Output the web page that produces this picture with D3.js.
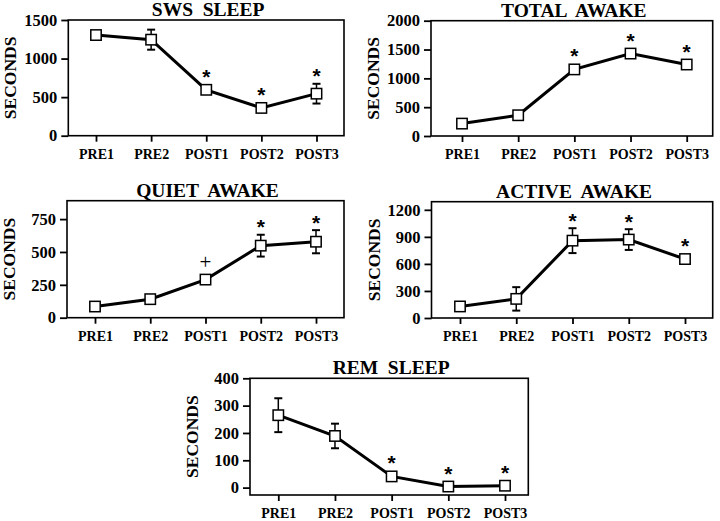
<!DOCTYPE html>
<html>
<head>
<meta charset="utf-8">
<script src="https://cdn.jsdelivr.net/npm/d3@7"></script>
<style>
  body { margin: 0; background: #fff; }
  svg { display: block; }
  text { font-family: "Liberation Serif", "Times New Roman", serif; font-weight: bold; fill: #000; }
</style>
</head>
<body>
<svg id="chart" width="720" height="521"></svg>
<script>
// categories along the x axis (same for every panel)
const categories = ['PRE1', 'PRE2', 'POST1', 'POST2', 'POST3'];

// values (seconds), with SEM where a bar is visible
const swsMean = [1305, 1245, 595, 360, 545];
const swsSem = [0, 130, 0, 0, 128];
const swsSig = ['', '', '*', '*', '*'];
const swsTicks = [0, 500, 1000, 1500];

const totalMean = [215, 360, 1155, 1430, 1240];
const totalSem = [0, 0, 0, 0, 0];
const totalSig = ['', '', '*', '*', '*'];
const totalTicks = [0, 500, 1000, 1500, 2000];

const quietMean = [85, 141, 290, 548, 578];
const quietSem = [0, 0, 0, 83, 88];
const quietSig = ['', '', '+', '*', '*'];
const quietTicks = [0, 250, 500, 750];

const activeMean = [128, 212, 858, 870, 654];
const activeSem = [0, 130, 138, 115, 0];
const activeSig = ['', '', '*', '*', '*'];
const activeTicks = [0, 300, 600, 900, 1200];

const remMean = [265, 189, 41, 4, 7];
const remSem = [62, 45, 0, 0, 0];
const remSig = ['', '', '*', '*', '*'];
const remTicks = [0, 100, 200, 300, 400];

// panel layout: plot box, first/last tick x, y domain
const panels = [
    { title: 'SWS  SLEEP', mean: swsMean, sem: swsSem, sig: swsSig, ticks: swsTicks,
      box: [68.3, 344, 20, 135.7], xr: [96, 316.5], ydom: [0, 1500] },
    { title: 'TOTAL  AWAKE', mean: totalMean, sem: totalSem, sig: totalSig, ticks: totalTicks,
      box: [431, 712.7, 20.7, 136], xr: [462, 686.7], ydom: [0, 2000] },
    { title: 'QUIET  AWAKE', mean: quietMean, sem: quietSem, sig: quietSig, ticks: quietTicks,
      box: [67, 344, 200.7, 317.7], xr: [95, 316], ydom: [0, 890] },
    { title: 'ACTIVE  AWAKE', mean: activeMean, sem: activeSem, sig: activeSig, ticks: activeTicks,
      box: [431.5, 712.7, 201.7, 318], xr: [460, 685], ydom: [0, 1290] },
    { title: 'REM  SLEEP', mean: remMean, sem: remSem, sig: remSig, ticks: remTicks,
      box: [250, 528.3, 378.3, 495], xr: [278.3, 505], ydom: [-27, 400] }
];

const svg = d3.select('#chart');

svg.append('rect')
    .attr('width', 720)
    .attr('height', 521)
    .attr('fill', '#fff');

function drawPanel(p) {
    const [x0, x1, y0, y1] = p.box;
    const g = svg.append('g');

    const x = d3.scalePoint()
        .domain(categories)
        .range(p.xr);

    const y = d3.scaleLinear()
        .domain(p.ydom)
        .range([y1, y0]);

    // frame
    g.append('rect')
        .attr('x', x0)
        .attr('y', y0)
        .attr('width', x1 - x0)
        .attr('height', y1 - y0)
        .attr('fill', 'none')
        .attr('stroke', '#000')
        .attr('stroke-width', 1.6);

    // y axis
    const yAxis = g.append('g')
        .attr('transform', `translate(${x0},0)`)
        .call(d3.axisLeft(y).tickValues(p.ticks).tickFormat(d3.format('d'))
            .tickSize(7).tickPadding(4).tickSizeOuter(0));
    yAxis.select('.domain').remove();
    yAxis.selectAll('line').attr('stroke-width', 1.8);
    yAxis.selectAll('text')
        .attr('font-family', null)
        .style('font-size', '16.5px');

    // x axis
    const xAxis = g.append('g')
        .attr('transform', `translate(0,${y1})`)
        .call(d3.axisBottom(x).tickSize(6).tickPadding(7.5).tickSizeOuter(0));
    xAxis.select('.domain').remove();
    xAxis.selectAll('line').attr('stroke-width', 1.8);
    xAxis.selectAll('text')
        .attr('font-family', null)
        .style('font-size', '14px');

    // y axis label (centred on its own x with dy)
    g.append('text')
        .attr('transform', `translate(${x0 - 58},${(y0 + y1) / 2}) rotate(-90)`)
        .attr('text-anchor', 'middle')
        .attr('dy', '0.35em')
        .style('font-size', '17.5px')
        .text('SECONDS');

    // title
    g.append('text')
        .attr('x', (x0 + x1) / 2 + 2)
        .attr('y', y0 - 4)
        .attr('text-anchor', 'middle')
        .style('font-size', '19.5px')
        .style('white-space', 'pre')
        .text(p.title);

    const pts = categories.map((c, i) => ({ c: c, v: p.mean[i], e: p.sem[i], s: p.sig[i] }));

    // error bars
    const eb = pts.filter(d => d.e > 0);
    g.selectAll('.err')
        .data(eb)
        .enter()
        .append('line')
        .attr('x1', d => x(d.c))
        .attr('x2', d => x(d.c))
        .attr('y1', d => y(d.v - d.e))
        .attr('y2', d => y(d.v + d.e))
        .attr('stroke', '#000')
        .attr('stroke-width', 1.5);
    [1, -1].forEach(sign => {
        g.selectAll(null)
            .data(eb)
            .enter()
            .append('line')
            .attr('x1', d => x(d.c) - 4)
            .attr('x2', d => x(d.c) + 4)
            .attr('y1', d => y(d.v + sign * d.e))
            .attr('y2', d => y(d.v + sign * d.e))
            .attr('stroke', '#000')
            .attr('stroke-width', 2);
    });

    // connecting line
    const line = d3.line()
        .x(d => x(d.c))
        .y(d => y(d.v));
    g.append('path')
        .datum(pts)
        .attr('fill', 'none')
        .attr('stroke', '#000')
        .attr('stroke-width', 3)
        .attr('d', line);

    // square markers
    g.selectAll('.mk')
        .data(pts)
        .enter()
        .append('rect')
        .attr('x', d => x(d.c) - 5.2)
        .attr('y', d => y(d.v) - 5.2)
        .attr('width', 10.4)
        .attr('height', 10.4)
        .attr('fill', '#fff')
        .attr('stroke', '#000')
        .attr('stroke-width', 1.5);

    // significance symbols
    g.selectAll('.sig')
        .data(pts.filter(d => d.s))
        .enter()
        .append('text')
        .attr('x', d => x(d.c))
        .attr('y', d => {
            const c = Math.min(y(d.v) - 16.5, y(d.v + d.e) - 11);
            return d.s === '+' ? c + 5.5 : c + 10.5;
        })
        .attr('text-anchor', 'middle')
        .style('font-family', d => d.s === '+' ? '"Liberation Serif", serif' : '"Liberation Sans", Arial, sans-serif')
        .style('font-weight', d => d.s === '+' ? 'normal' : 'bold')
        .style('font-size', '21px')
        .text(d => d.s);
}

panels.forEach(drawPanel);
</script>
</body>
</html>
